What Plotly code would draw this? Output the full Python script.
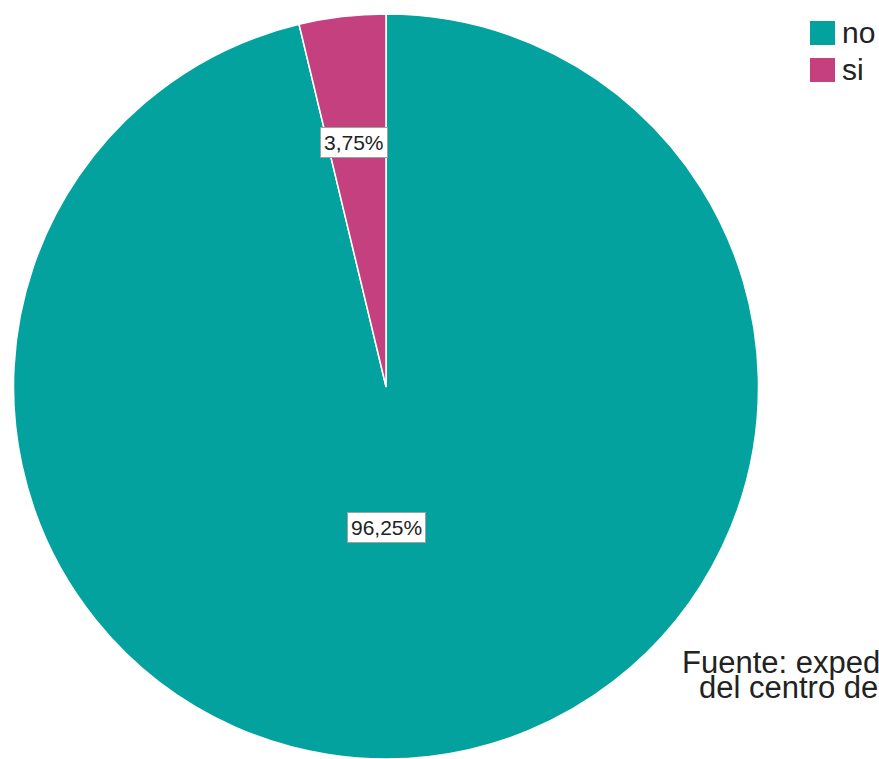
import plotly.graph_objects as go

# Data
categories = ["no", "si"]
percentages = [96.25, 3.75]
colors = ["#03A29F", "#C4407F"]

legend_order = ["no", "si"]
source_lines = ["Fuente: expedientes clínicos", "del centro de salud"]

W, H = 879, 759
FONT = "Liberation Sans, Arial, sans-serif"


def px_x(x):
    return x / W


def px_y(y):
    return 1 - y / H


fig = go.Figure()

# "no" runs clockwise from 12 o'clock, leaving "si" just left of the top
fig.add_trace(go.Pie(
    labels=categories,
    values=percentages,
    sort=False,
    direction="clockwise",
    rotation=0,
    marker=dict(colors=colors, line=dict(color="white", width=1.5)),
    textinfo="none",
    hoverinfo="label+percent",
    showlegend=False,
    domain=dict(x=[px_x(13), px_x(759)], y=[px_y(759), px_y(14)]),
))


def pct_text(v):
    return f"{v:.2f}".replace(".", ",") + "%"


# Percentage labels in white boxes
label_pos = {"si": (354, 143), "no": (386, 527)}
for cat, val in zip(categories, percentages):
    lx, ly = label_pos[cat]
    fig.add_annotation(
        x=px_x(lx), y=px_y(ly), xref="paper", yref="paper",
        text=pct_text(val), showarrow=False,
        font=dict(family=FONT, size=21, color="#222222"),
        bgcolor="white", bordercolor="#a0a0a0", borderwidth=1, borderpad=3,
        xanchor="center", yanchor="middle",
    )

# Legend drawn as squares with labels
legend_rows = {"no": (21, 45), "si": (58, 82)}
color_of = dict(zip(categories, colors))
for cat in legend_order:
    y0, y1 = legend_rows[cat]
    fig.add_shape(
        type="rect", xref="paper", yref="paper",
        x0=px_x(810), x1=px_x(835), y0=px_y(y1), y1=px_y(y0),
        fillcolor=color_of[cat], line=dict(width=0),
    )
    fig.add_annotation(
        x=px_x(840), y=px_y((y0 + y1) / 2), xref="paper", yref="paper",
        text=cat, showarrow=False,
        font=dict(family=FONT, size=30, color="#222222"),
        xanchor="left", yanchor="middle",
    )

# Source note, partly running off the right edge
for line, (sx, sy) in zip(source_lines, [(680, 662), (697, 687)]):
    fig.add_annotation(
        x=px_x(sx), y=px_y(sy), xref="paper", yref="paper",
        text=line, showarrow=False,
        font=dict(family=FONT, size=31, color="#222222"),
        xanchor="left", yanchor="middle",
    )

fig.update_layout(
    width=W, height=H,
    margin=dict(l=0, r=0, t=0, b=0),
    paper_bgcolor="white", plot_bgcolor="white",
    showlegend=False,
)

fig.write_html("out.html")
